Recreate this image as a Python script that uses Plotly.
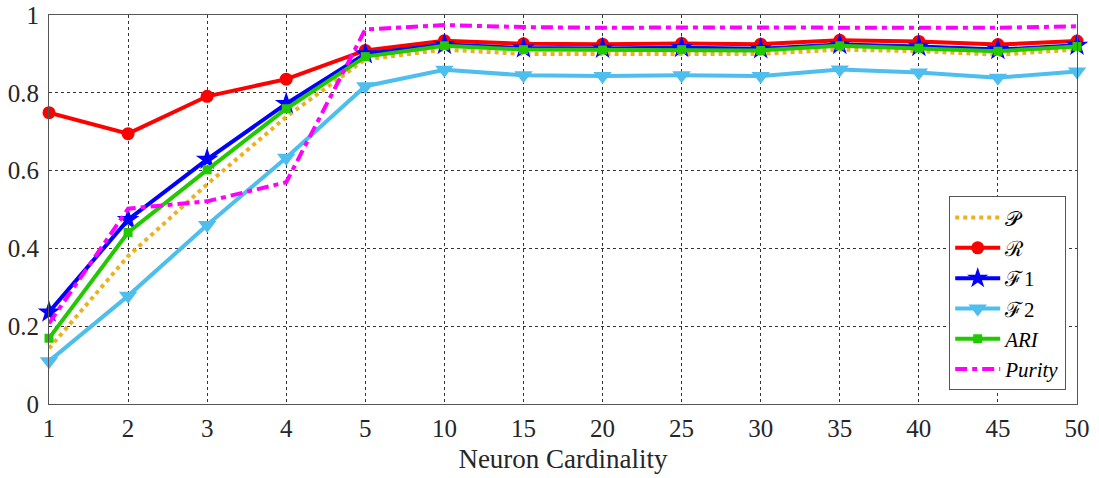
import plotly.graph_objects as go

categories = ["1", "2", "3", "4", "5", "10", "15", "20", "25", "30", "35", "40", "45", "50"]
P_vals = [0.143, 0.380, 0.565, 0.738, 0.886, 0.911, 0.900, 0.900, 0.901, 0.900, 0.911, 0.907, 0.898, 0.911]
R_vals = [0.749, 0.695, 0.791, 0.835, 0.909, 0.934, 0.926, 0.925, 0.927, 0.925, 0.935, 0.932, 0.924, 0.933]
F1_vals = [0.236, 0.474, 0.629, 0.772, 0.900, 0.924, 0.915, 0.914, 0.916, 0.913, 0.924, 0.919, 0.911, 0.922]
F2_vals = [0.110, 0.278, 0.460, 0.633, 0.817, 0.859, 0.845, 0.843, 0.845, 0.843, 0.860, 0.852, 0.839, 0.855]
ARI_vals = [0.169, 0.441, 0.602, 0.759, 0.893, 0.921, 0.911, 0.910, 0.911, 0.909, 0.921, 0.915, 0.907, 0.919]
Purity_vals = [0.207, 0.502, 0.521, 0.570, 0.963, 0.974, 0.969, 0.967, 0.968, 0.968, 0.969, 0.969, 0.967, 0.971]
y_ticks = [0, 0.2, 0.4, 0.6, 0.8, 1]
y_tick_text = ["0", "0.2", "0.4", "0.6", "0.8", "1"]

series = [
    ("\U0001D4AB", P_vals, "#EDB120", "dot", None, 0),
    ("\u211B", R_vals, "#FF0000", "solid", "circle", 13),
    ("\u2131\u200a1", F1_vals, "#0000FF", "solid", "star", 17),
    ("\u2131\u200a2", F2_vals, "#4DBEEE", "solid", "triangle-down", 16),
    ("<i>ARI</i>", ARI_vals, "#22C800", "solid", "square", 9),
    ("<i>Purity</i>", Purity_vals, "#FF00FF", "12px,5px,5px,5px", None, 0),
]

SERIF = "Liberation Serif"

fig = go.Figure()
for name, vals, color, dash, sym, size in series:
    fig.add_trace(go.Scatter(
        x=categories, y=vals, name=name,
        mode="lines+markers" if sym else "lines",
        line=dict(color=color, width=4, dash=dash),
        marker=dict(symbol=sym, size=size, color=color) if sym else None,
        cliponaxis=False,
    ))

fig.update_layout(
    width=1099, height=478,
    margin=dict(l=49, r=22, t=15, b=74, autoexpand=False),
    paper_bgcolor="white", plot_bgcolor="white",
    font=dict(family=SERIF, size=24, color="#262626"),
    showlegend=True,
    legend=dict(
        x=0.9895, y=0.035, xanchor="right", yanchor="bottom",
        bgcolor="white", bordercolor="#555555", borderwidth=1,
        font=dict(family=SERIF, size=21, color="black"),
        tracegroupgap=0, itemwidth=45,
    ),
)
fig.update_xaxes(
    type="category", range=[0, 13], automargin=False,
    showline=True, linecolor="#555555", linewidth=1, mirror=True,
    showgrid=True, gridcolor="#333333", gridwidth=1, griddash="dot",
    ticks="outside", ticklen=2, tickcolor="rgba(0,0,0,0)", tickfont=dict(family=SERIF, size=25),
    title=dict(text="Neuron Cardinality", font=dict(family=SERIF, size=27), standoff=8),
)
fig.update_yaxes(
    range=[0, 1], tickvals=y_ticks, ticktext=y_tick_text, automargin=False,
    showline=True, linecolor="#555555", linewidth=1, mirror=True,
    showgrid=True, gridcolor="#333333", gridwidth=1, griddash="dot",
    zeroline=False, ticks="outside", ticklen=4, tickcolor="rgba(0,0,0,0)",
    tickfont=dict(family=SERIF, size=25), ticklabeloverflow="allow",
)

fig.write_html("out.html")
